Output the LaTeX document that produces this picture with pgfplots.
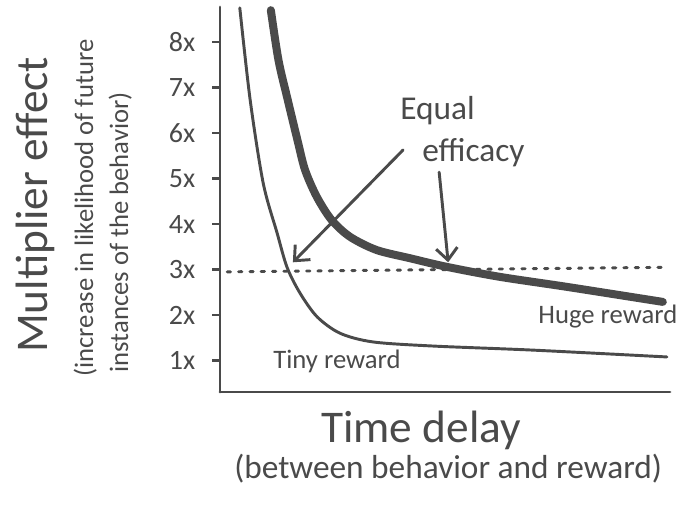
\documentclass[border=0pt]{standalone}
\usepackage{pgfplots}
\pgfplotsset{compat=1.18}
\usepackage{fontspec}
\setmainfont{Carlito}
\usetikzlibrary{arrows.meta}
\definecolor{ink}{HTML}{4A4A4A}
\begin{document}
\begin{tikzpicture}
\path[use as bounding box] (0,0) rectangle (508.5pt,379.5pt);
\begin{axis}[
  at={(165pt,85.5pt)}, anchor=south west,
  width=337.5pt, height=288.75pt, scale only axis,
  xmin=0, xmax=10, ymin=0.31, ymax=8.77,
  axis lines=left,
  axis line style={-, line width=2.2pt, ink, line cap=round},
  xtick=\empty, ytick={1,2,3,4,5,6,7,8},
  yticklabels={1x,2x,3x,4x,5x,6x,7x,8x},
  tick align=outside, major tick length=6pt,
  tick style={line width=2pt, ink},
  yticklabel style={font=\fontsize{21}{21}\selectfont, text=ink, xshift=-9pt},
  clip=false,
]
% dotted 3x line
\addplot[ink, line width=2.2pt, line cap=round, dash pattern=on 2.5pt off 6pt]
  coordinates {(0.16,2.95) (9.89,3.05)};
% tiny reward
\addplot[ink, line width=2.2pt, smooth, tension=0.5, line cap=round]
  coordinates {(0.44,8.75) (0.67,6.73) (0.96,4.90) (1.27,3.80) (1.49,3.05)
  (1.78,2.48) (2.16,1.96) (2.67,1.60) (3.40,1.41) (4.73,1.32) (6.96,1.23) (9.93,1.08)};
% huge reward
\addplot[ink, line width=6pt, smooth, tension=0.5, line cap=round]
  coordinates {(1.13,8.70) (1.30,7.60) (1.50,6.75) (1.72,5.85) (1.89,5.19)
  (2.15,4.60) (2.48,4.09) (2.89,3.72) (3.48,3.43) (4.22,3.25) (5.04,3.06)
  (6.22,2.84) (7.71,2.62) (9.84,2.29)};
% arrows
\draw[ink, line width=2.2pt, line cap=round, -{Straight Barb[length=9pt,width=16pt,line width=2.2pt]}]
  (axis cs:4.07,5.63) -- (axis cs:1.62,3.16);
\draw[ink, line width=2.2pt, line cap=round, -{Straight Barb[length=9pt,width=16pt,line width=2.2pt]}]
  (axis cs:4.87,5.14) -- (axis cs:5.07,3.16);
% annotations
\node[anchor=base west, text=ink, font=\fontsize{25}{25}\selectfont, inner sep=0pt] at (axis cs:4.0,6.29) {Equal};
\node[anchor=base west, text=ink, font=\fontsize{25}{25}\selectfont, inner sep=0pt] at (axis cs:4.49,5.38) {efficacy};
\node[anchor=base west, text=ink, font=\fontsize{20}{20}\selectfont, inner sep=0pt] at (axis cs:7.07,1.82) {Huge reward};
\node[anchor=base west, text=ink, font=\fontsize{20}{20}\selectfont, inner sep=0pt] at (axis cs:1.18,0.835) {Tiny reward};
% axis labels
\node[anchor=base, rotate=90, text=ink, font=\fontsize{34}{34}\selectfont, inner sep=0pt] at (axis cs:-3.84,4.42) {Multiplier effect};
\node[anchor=base, rotate=90, text=ink, font=\fontsize{20}{20}\selectfont, inner sep=0pt] at (axis cs:-2.82,4.35) {(increase in likelihood of future};
\node[anchor=base, rotate=90, text=ink, font=\fontsize{20}{20}\selectfont, inner sep=0pt] at (axis cs:-2.04,3.82) {instances of the behavior)};
\node[anchor=base, text=ink, font=\fontsize{34}{34}\selectfont, inner sep=0pt] at (axis cs:4.47,-0.81) {Time delay};
\node[anchor=base, text=ink, font=\fontsize{25}{25}\selectfont, inner sep=0pt] at (axis cs:5.07,-1.58) {(between behavior and reward)};
\end{axis}
\end{tikzpicture}
\end{document}
